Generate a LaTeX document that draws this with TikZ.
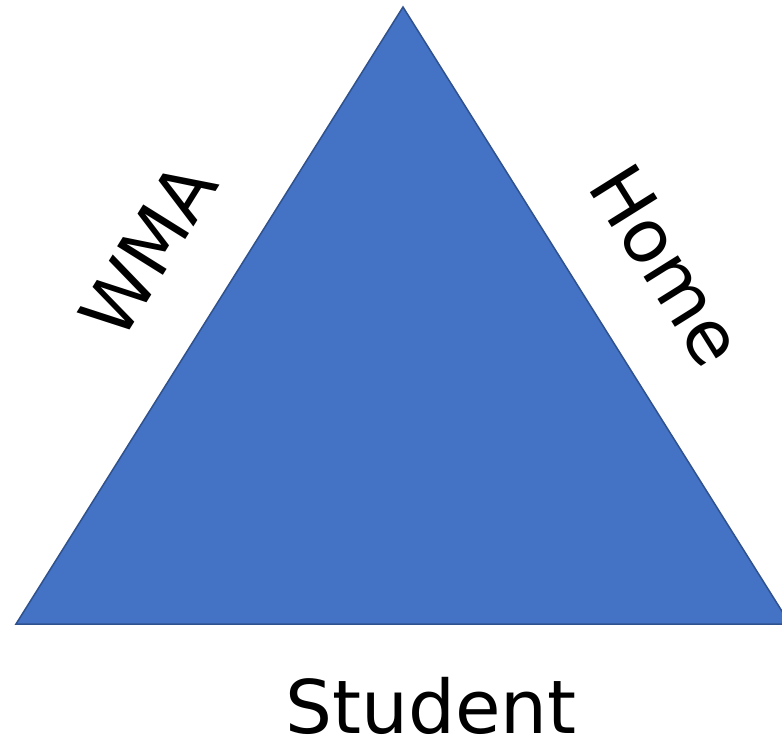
\documentclass[tikz,border=0pt]{standalone}
\usepackage{fontspec}
\setmainfont{DejaVu Sans}
\definecolor{triblue}{HTML}{4472C4}
\definecolor{triedge}{HTML}{2F528F}
\begin{document}
\begin{tikzpicture}[x = 1pt, y = -1pt]
\tikzstyle{SideLabel}=[font = \fontsize{74}{80}\selectfont,
                       inner sep = 0pt]

\useasboundingbox (0,0) rectangle (782,741);
\coordinate (top) at (403,7);
\coordinate (left) at (16,624);
\coordinate (right) at (790,624);
\begin{scope}
\clip (0,0) rectangle (782,741);
\filldraw[fill = triblue, draw = triedge, line width = 1.5pt] (top) -- (left) -- (right) -- cycle;
\end{scope}
\node[SideLabel, rotate = 58] (wma) at (148,250) {WMA};
\node[SideLabel, rotate = -58] (home) at (667,265) {Home};
\node[SideLabel] (student) at (431,706) {Student};
\end{tikzpicture}
\end{document}
